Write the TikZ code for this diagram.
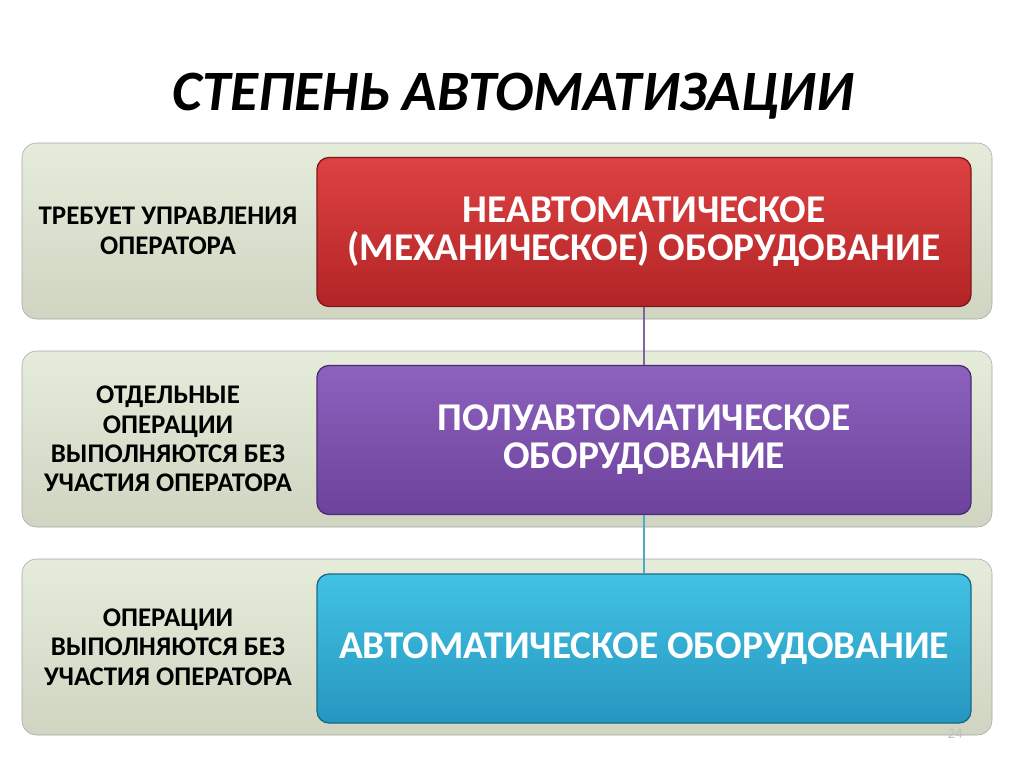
\documentclass[tikz,border=0pt]{standalone}
\usepackage{fontspec}
\setmainfont{Carlito}
\definecolor{bandtop}{RGB}{229,236,218}
\definecolor{bandbot}{RGB}{207,213,193}
\definecolor{redtop}{RGB}{222,66,66}
\definecolor{redbot}{RGB}{178,36,38}
\definecolor{purtop}{RGB}{140,98,190}
\definecolor{purbot}{RGB}{108,66,156}
\definecolor{cyantop}{RGB}{66,194,228}
\definecolor{cyanbot}{RGB}{38,150,192}
\definecolor{purline}{RGB}{128,100,162}
\definecolor{cyanline}{RGB}{75,172,198}
\begin{document}
\begin{tikzpicture}[x=0.75pt,y=-0.75pt,
		band/.style={draw=black!35, rounded corners=11pt, minimum width=727.5pt, minimum height=132pt, top color=bandtop, bottom color=bandbot},
		level/.style={rounded corners=9pt, line width=1pt, minimum width=490.5pt, minimum height=111.75pt, text=white, align=center, font=\bfseries\fontsize{29.5}{28.5}\selectfont},
		note/.style={align=center, font=\bfseries\fontsize{20.2}{22}\selectfont}]
			\useasboundingbox [fill=white] (0,0) rectangle (1024,767);
			% 					title
			\node (title) at (513,96) {\bfseries\itshape\fontsize{42.8}{46}\selectfont СТЕПЕНЬ АВТОМАТИЗАЦИИ};
			
			\node [band] (band1) at (507,231) {};
			\node [band] (band2) at (507,439) {};
			\node [band] (band3) at (507,647) {};
			
			\node [level, draw=redbot!70!black, top color=redtop, bottom color=redbot] (lvl1) at (644,232) {НЕАВТОМАТИЧЕСКОЕ\\(МЕХАНИЧЕСКОЕ) ОБОРУДОВАНИЕ};
			\node [level, draw=purbot!70!black, top color=purtop, bottom color=purbot] (lvl2) at (644,440) {ПОЛУАВТОМАТИЧЕСКОЕ\\ОБОРУДОВАНИЕ};
			\node [level, draw=cyanbot!70!black, top color=cyantop, bottom color=cyanbot] (lvl3) at (644,648.5) {АВТОМАТИЧЕСКОЕ ОБОРУДОВАНИЕ};
			
			\draw [line width=1.2pt, color=purline](lvl1.south)--(lvl2.north);
			\draw [line width=1.2pt, color=cyanline](lvl2.south)--(lvl3.north);
			
			\node [note] (note1) at (168,231) {ТРЕБУЕТ УПРАВЛЕНИЯ\\ОПЕРАТОРА};
			\node [note] (note2) at (168,439) {ОТДЕЛЬНЫЕ\\ОПЕРАЦИИ\\ВЫПОЛНЯЮТСЯ БЕЗ\\УЧАСТИЯ ОПЕРАТОРА};
			\node [note] (note3) at (168,647) {ОПЕРАЦИИ\\ВЫПОЛНЯЮТСЯ БЕЗ\\УЧАСТИЯ ОПЕРАТОРА};
			
			\node [text=black!25, font=\fontsize{11}{11}\selectfont] (pagenum) at (955,734) {24};
			
		\end{tikzpicture}
\end{document}
